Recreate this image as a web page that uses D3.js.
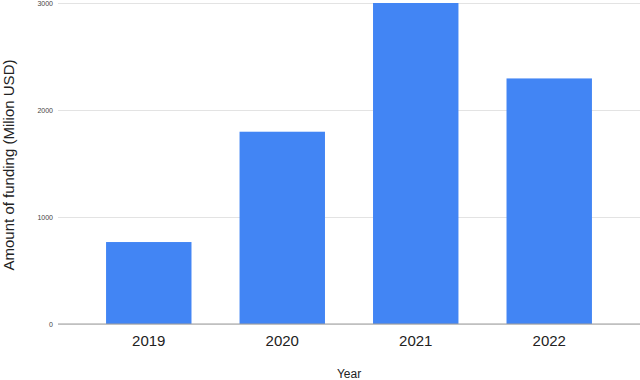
<html>
<meta charset="UTF-8">
<head>
    <script src="https://d3js.org/d3.v7.min.js"></script>
    <style>
        body { margin: 0; background: white; font-family: Arial, "Liberation Sans", sans-serif; }
        .gridLines line { stroke: #e3e3e3; }
        .gridLines .domain { stroke: none; }
        .gridLines text { fill: #444; font-size: 7px; }
    </style>
</head>
<body>
    <svg id="graph" width="640" height="380"></svg>
</body>
<script>
    // data
    const years = ["2019", "2020", "2021", "2022"];
    const funding = [766, 1797, 3000, 2295];
    const yTicks = [0, 1000, 2000, 3000];

    const svg = d3.select("svg#graph");
    const margin = {top: 3, right: 0, bottom: 56, left: 58};
    const width = +svg.attr("width");
    const height = +svg.attr("height");
    const chartWidth = width - margin.left - margin.right;
    const chartHeight = height - margin.top - margin.bottom;

    const yScale = d3.scaleLinear().domain([0, 3000]).range([chartHeight, 0]);
    const xScale = d3.scaleBand().domain(years).range([0, chartWidth])
        .paddingInner(0.36).paddingOuter(0.36);

    // gridlines with tick labels
    svg.append("g")
        .attr("class", "gridLines")
        .attr("transform", `translate(${margin.left},${margin.top})`)
        .call(d3.axisLeft(yScale).tickValues(yTicks).tickFormat(d3.format("d"))
            .tickSize(-chartWidth).tickPadding(5));

    const chartArea = svg.append("g")
        .attr("transform", `translate(${margin.left},${margin.top})`);

    chartArea.selectAll("rect")
        .data(years)
        .join("rect")
        .attr("x", d => xScale(d))
        .attr("width", xScale.bandwidth())
        .attr("y", (d, i) => yScale(funding[i]))
        .attr("height", (d, i) => chartHeight - yScale(funding[i]))
        .attr("fill", "#4285f4");

    // baseline
    chartArea.append("line")
        .attr("x1", 0).attr("x2", chartWidth)
        .attr("y1", yScale(0)).attr("y2", yScale(0))
        .attr("stroke", "#9e9e9e").attr("stroke-width", 1.2);

    // x axis labels
    const bottomAxis = svg.append("g")
        .attr("transform", `translate(${margin.left},${margin.top + chartHeight})`)
        .call(d3.axisBottom(xScale).tickSize(0).tickPadding(11));
    bottomAxis.select(".domain").remove();
    bottomAxis.selectAll("text")
        .attr("font-size", "15px")
        .attr("font-family", "Arial, 'Liberation Sans', sans-serif")
        .attr("fill", "#222");

    // axis titles
    svg.append("text")
        .attr("x", margin.left + chartWidth / 2)
        .attr("y", 378)
        .attr("text-anchor", "middle")
        .attr("font-size", "12px")
        .attr("fill", "#222")
        .text("Year");

    svg.append("text")
        .attr("transform", `translate(14,165) rotate(-90)`)
        .attr("text-anchor", "middle")
        .attr("font-size", "15px")
        .attr("fill", "#222")
        .text("Amount of funding (Milion USD)");
</script>
</html>
